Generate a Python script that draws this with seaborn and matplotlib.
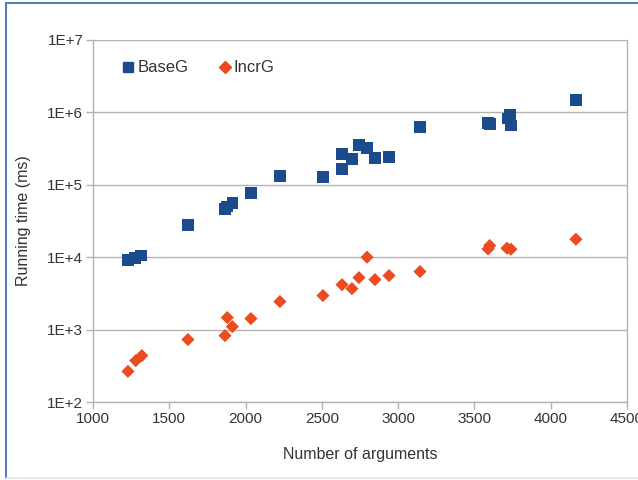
import numpy as np
import pandas as pd
import matplotlib
matplotlib.use("Agg")
import matplotlib.pyplot as plt
import matplotlib.ticker as mticker
from matplotlib.lines import Line2D
import seaborn as sns

# BaseG: number of arguments vs running time (ms)
base_args = [1229, 1275, 1315, 1622, 1865, 1880, 1913, 2035, 2225, 2507, 2632, 2632,
             2697, 2743, 2796, 2848, 2940, 3143, 3589, 3600, 3718, 3735, 3740, 4165]
base_time = [9100, 9700, 10600, 27700, 46000, 50000, 55700, 76500, 131000, 128000, 164000, 265000,
             226000, 352000, 320000, 233000, 240000, 625000, 709000, 690000, 820000, 930000, 660000, 1470000]

# IncrG
incr_args = [1229, 1280, 1320, 1622, 1865, 1880, 1913, 2035, 2225, 2507, 2632, 2697,
             2743, 2796, 2848, 2940, 3143, 3589, 3600, 3713, 3739, 4165]
incr_time = [265, 373, 437, 728, 826, 1465, 1100, 1420, 2440, 2950, 4170, 3680,
             5220, 10000, 4900, 5570, 6330, 13000, 14500, 13300, 12900, 17700]

colors = {"BaseG": "#1b4a8d", "IncrG": "#ec4a21"}
markers = {"BaseG": "s", "IncrG": "D"}

df = pd.concat([
    pd.DataFrame({"args": base_args, "time": base_time, "series": "BaseG"}),
    pd.DataFrame({"args": incr_args, "time": incr_time, "series": "IncrG"}),
])

sns.set_style("white")
plt.rcParams["font.family"] = ["Liberation Sans", "DejaVu Sans"]

fig = plt.figure(figsize=(6.38, 4.8), dpi=100)
ax = fig.add_axes([0.1458, 0.1625, 0.837, 0.7542])

for name, sub in df.groupby("series"):
    sns.scatterplot(data=sub, x="args", y="time", ax=ax, color=colors[name],
                    marker=markers[name], s=70 if name == "BaseG" else 45,
                    edgecolor="none", legend=False, zorder=3)

ax.set_yscale("log")
ax.set_ylim(100, 1e7)
ax.set_xlim(1000, 4500)
ax.xaxis.set_major_locator(mticker.MultipleLocator(500))
ax.yaxis.set_major_locator(mticker.LogLocator(base=10, numticks=10))
ax.yaxis.set_minor_locator(mticker.NullLocator())
ax.yaxis.set_major_formatter(mticker.FuncFormatter(lambda v, p: "1E+%d" % round(np.log10(v))))

ax.yaxis.grid(True, color="#b3b3b3", linewidth=1, zorder=0)
ax.set_axisbelow(True)
for side in ["left", "bottom", "right"]:
    ax.spines[side].set_color("#b3b3b3")
    ax.spines[side].set_linewidth(1)
ax.spines["top"].set_visible(False)
ax.tick_params(axis="both", which="major", length=5, width=1, color="#b3b3b3",
               labelsize=11, labelcolor="#333333", direction="out", pad=2)
ax.tick_params(axis="x", bottom=True)
ax.tick_params(axis="y", left=True)

ax.set_xlabel("Number of arguments", fontsize=11.5, color="#333333", labelpad=15)
ax.set_ylabel("Running time (ms)", fontsize=11.5, color="#333333", labelpad=12)

handles = [Line2D([], [], linestyle="none", marker=markers[n], color=colors[n],
                  markersize=7 if n == "BaseG" else 6.5, label=n) for n in ["BaseG", "IncrG"]]
leg = ax.legend(handles=handles, loc="center left", bbox_to_anchor=(0.053, 0.923), ncol=2,
                frameon=False, fontsize=12, handlelength=0.8, handletextpad=0.15,
                columnspacing=1.8, borderaxespad=0, borderpad=0)
for t in leg.get_texts():
    t.set_color("#333333")

# outer border of the chart area (left/top blue, bottom light grey)
fig.add_artist(Line2D([0.009, 0.009], [0.004, 0.994], transform=fig.transFigure,
                      color="#4f81bd", linewidth=1.5))
fig.add_artist(Line2D([0.009, 1.0], [0.994, 0.994], transform=fig.transFigure,
                      color="#4f81bd", linewidth=1.5))
fig.add_artist(Line2D([0.009, 1.0], [0.004, 0.004], transform=fig.transFigure,
                      color="#e3e3e3", linewidth=1.2))

fig.savefig("out.png", dpi=100)
